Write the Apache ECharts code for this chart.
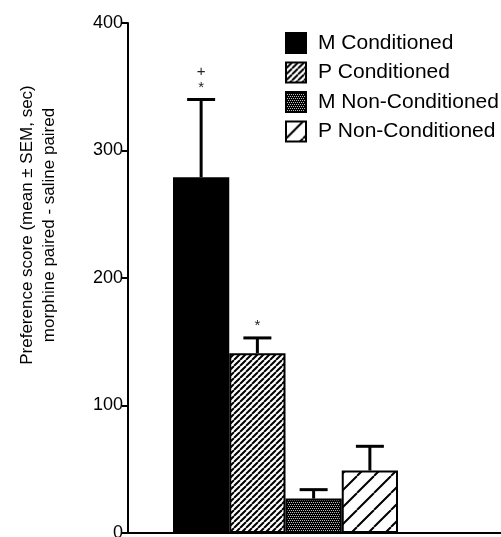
<!DOCTYPE html>
<html>
<head>
<meta charset="utf-8">
<script src="https://cdn.jsdelivr.net/npm/echarts@6/dist/echarts.min.js"></script>
<style>
html,body{margin:0;padding:0;background:#fff;}
#c{width:501px;height:537px;}
</style>
</head>
<body>
<div id="c"></div>
<script>
// ---- data ----
var categories = ['M Conditioned', 'P Conditioned', 'M Non-Conditioned', 'P Non-Conditioned'];
var means = [279, 141, 27, 49];
var sems = [61, 12, 7, 19];
var annotations = ['+\n*', '*', '', ''];
var yTicks = [0, 100, 200, 300, 400];
var yTitleLine1 = 'Preference score (mean \u00b1 SEM, sec)';
var yTitleLine2 = 'morphine paired - saline paired';

// ---- patterns ----
function hatch(size, lw) {
  var c = document.createElement('canvas');
  c.width = size; c.height = size;
  var g = c.getContext('2d');
  g.fillStyle = '#fff'; g.fillRect(0, 0, size, size);
  g.strokeStyle = '#000'; g.lineWidth = lw;
  g.beginPath();
  for (var k = -1; k <= 1; k++) {
    g.moveTo(k * size, size); g.lineTo(k * size + size, 0);
  }
  g.stroke();
  return c;
}
function dots() {
  var c = document.createElement('canvas');
  c.width = 4; c.height = 4;
  var g = c.getContext('2d');
  g.fillStyle = '#000'; g.fillRect(0, 0, 4, 4);
  g.fillStyle = '#bbb';
  g.fillRect(0, 0, 1, 1); g.fillRect(2, 0, 1, 1);
  g.fillRect(1, 2, 1, 1); g.fillRect(3, 2, 1, 1);
  return c;
}
var fills = [
  '#000',
  { image: hatch(6, 2), repeat: 'repeat' },
  { image: dots(), repeat: 'repeat' },
  { image: hatch(17, 2), repeat: 'repeat' }
];

var series = categories.map(function (name, i) {
  var d = categories.map(function (_, j) { return j === i ? means[i] : null; });
  return {
    name: name, type: 'bar', xAxisIndex: 1, yAxisIndex: 1,
    data: d, barWidth: '100%', barGap: '-100%',
    itemStyle: { color: fills[i], borderColor: '#000', borderWidth: 2 },
    z: 2
  };
});

var errData = categories.map(function (_, i) { return [i, means[i], sems[i], annotations[i]]; });
series.push({
  type: 'custom', xAxisIndex: 1, yAxisIndex: 1, z: 3,
  data: errData,
  renderItem: function (params, api) {
    var i = api.value(0), v = api.value(1), e = api.value(2);
    var p0 = api.coord([i, v]);
    var p1 = api.coord([i, v + e]);
    var half = 14;
    var note = errData[params.dataIndex][3];
    var children = [
      { type: 'line', shape: { x1: p0[0], y1: p0[1], x2: p1[0], y2: p1[1] }, style: { stroke: '#000', lineWidth: 3 } },
      { type: 'line', shape: { x1: p1[0] - half, y1: p1[1], x2: p1[0] + half, y2: p1[1] }, style: { stroke: '#000', lineWidth: 3 } }
    ];
    if (note) {
      children.push({
        type: 'text',
        style: { text: note, x: p1[0], y: p1[1] - 4, align: 'center', verticalAlign: 'bottom',
          fontFamily: 'Liberation Sans, Arial', fontSize: 15, lineHeight: 16, fill: '#222' }
      });
    }
    return { type: 'group', children: children };
  }
});

var chart = echarts.init(document.getElementById('c'));
chart.setOption({
  animation: false,
  backgroundColor: '#fff',
  grid: [
    { left: 128, right: 0, top: 23, bottom: 4, containLabel: false, outerBoundsMode: 'none' },
    { left: 173, right: 103, top: 23, bottom: 4, containLabel: false, outerBoundsMode: 'none' }
  ],
  xAxis: [
    { gridIndex: 0, type: 'category', data: [''], axisLine: { lineStyle: { color: '#000', width: 2 } },
      axisTick: { show: false }, axisLabel: { show: false } },
    { gridIndex: 1, type: 'category', data: categories, show: false }
  ],
  yAxis: [
    { gridIndex: 0, type: 'value', min: yTicks[0], max: yTicks[yTicks.length - 1], interval: 100,
      axisLine: { show: true, lineStyle: { color: '#000', width: 2 } },
      axisTick: { show: true, length: 6, lineStyle: { color: '#000', width: 2 } },
      axisLabel: { color: '#000', fontSize: 18, fontFamily: 'Liberation Sans, Arial', margin: 5 },
      splitLine: { show: false }
    },
    { gridIndex: 1, type: 'value', min: 0, max: 400, interval: 100, show: false }
  ],
  graphic: [{
    type: 'text', x: 38, y: 225, rotation: Math.PI / 2,
    style: { text: yTitleLine1 + '\n' + yTitleLine2, align: 'center', verticalAlign: 'middle',
      fontSize: 17, lineHeight: 22, fontFamily: 'Liberation Sans, Arial', fill: '#000' }
  }],
  legend: {
    orient: 'vertical', left: 285, top: 32, padding: 0, itemWidth: 20, itemHeight: 20, itemGap: 7.5,
    icon: 'rect',
    data: categories,
    textStyle: { color: '#000', fontSize: 21, lineHeight: 20, fontFamily: 'Liberation Sans, Arial', padding: [0, 0, 0, 7] },
    itemStyle: { borderColor: '#000', borderWidth: 2 }
  },
  series: series
});
</script>
</body>
</html>
